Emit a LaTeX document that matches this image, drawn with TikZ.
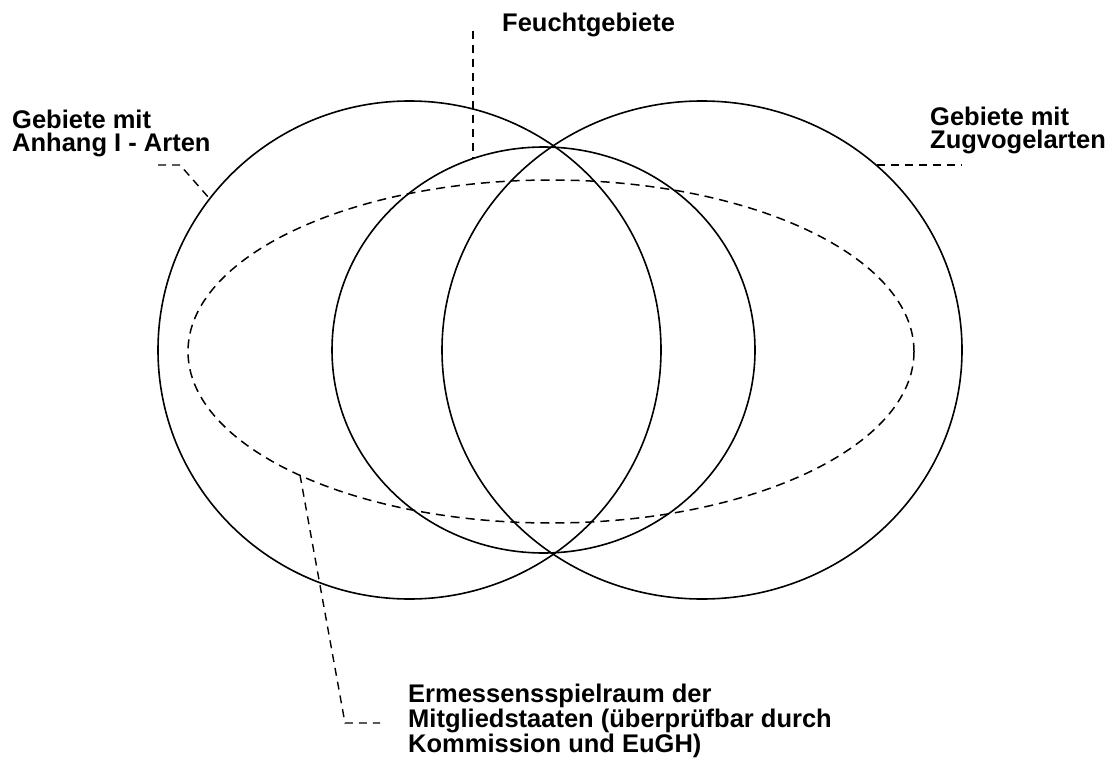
\documentclass[tikz,border=0pt]{standalone}
\usepackage{fontspec}
\setmainfont{Liberation Sans}
\begin{document}
\begin{tikzpicture}[x=1pt,y=-1pt]
\tikzset{
  ring/.style={draw=black, line width=1.6pt},
  dashring/.style={draw=black, line width=1.5pt, dash pattern=on 9pt off 6pt},
  leader/.style={draw=black, line width=1.4pt, dash pattern=on 8pt off 6pt},
  lbl/.style={font=\fontsize{25.5}{23}\selectfont\bfseries, inner sep=0pt, align=left, anchor=north west}
}
\useasboundingbox (0,0) rectangle (1118,765);
% circles
\draw[ring] (409.5,350) ellipse [x radius=251.5, y radius=249];
\draw[ring] (702,350) ellipse [x radius=260, y radius=249];
\draw[ring] (543.5,350) ellipse [x radius=211.5, y radius=203];
\draw[dashring] (551,351.5) ellipse [x radius=363, y radius=171.5];
% labels
\node[lbl, anchor=base west] (feucht) at (502,32) {Feuchtgebiete};
\node[lbl] (anhang) at (12,110) {Gebiete mit\\Anhang I - Arten};
\node[lbl] (zug) at (930,107) {Gebiete mit\\Zugvogelarten};
\node[lbl] (erm) at (408,684) {Ermessensspielraum der\\Mitgliedstaaten (überprüfbar durch\\Kommission und EuGH)};
% leader coordinates
\coordinate (fTop) at (473,31);
\coordinate (fEnd) at (473,158);
\coordinate (aStart) at (158,165);
\coordinate (aBend) at (180,165);
\coordinate (aEnd) at (209,198);
\coordinate (zStart) at (877,165);
\coordinate (zEnd) at (962,165);
\coordinate (eStart) at (300,475);
\coordinate (eBend) at (345,723);
\coordinate (eEnd) at (380,723);
\draw[leader] (fTop) -- (fEnd);
\draw[leader] (aStart) -- (aBend) -- (aEnd);
\draw[leader] (zStart) -- (zEnd);
\draw[leader] (eStart) -- (eBend) -- (eEnd);
\end{tikzpicture}
\end{document}
